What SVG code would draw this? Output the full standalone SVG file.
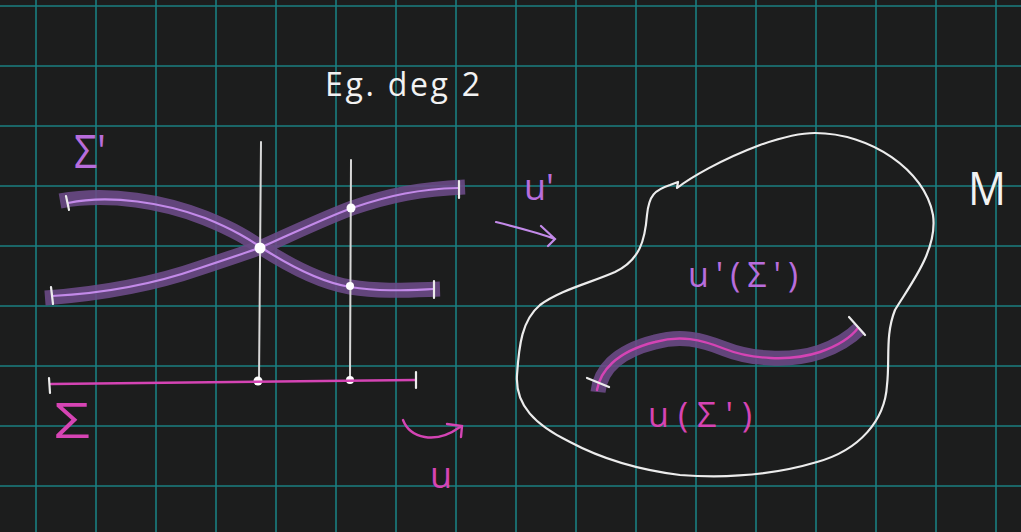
<svg xmlns="http://www.w3.org/2000/svg" width="1021" height="532" viewBox="0 0 1021 532">
<style>
.grid line{stroke:#1a7f81;stroke-width:1.6}
.hl{fill:none;stroke:#6a4a86;stroke-width:15;stroke-linecap:butt;opacity:.9}
.pl{fill:none;stroke:#c38ae9;stroke-width:2.2;stroke-linecap:round}
.mg{fill:none;stroke:#d444b4;stroke-width:2.4;stroke-linecap:round}
.wt{fill:none;stroke:#ececec;stroke-width:2.2;stroke-linecap:round;stroke-linejoin:round}
.vl{fill:none;stroke:#d8d8d8;stroke-width:2;stroke-linecap:round}
.dot{fill:#ffffff}
.t{font-family:"Open Sans","Liberation Sans",sans-serif}
.tw{fill:#f2f2f2}
.tp{fill:#b86ddc}
.tm{fill:#d644b4}
</style>
<rect width="1021" height="532" fill="#1c1d1d"/>
<g class="grid">
<line x1="36" y1="0" x2="36" y2="532"/><line x1="96" y1="0" x2="96" y2="532"/><line x1="156" y1="0" x2="156" y2="532"/><line x1="216" y1="0" x2="216" y2="532"/><line x1="276" y1="0" x2="276" y2="532"/><line x1="336" y1="0" x2="336" y2="532"/><line x1="396" y1="0" x2="396" y2="532"/><line x1="456" y1="0" x2="456" y2="532"/><line x1="516" y1="0" x2="516" y2="532"/><line x1="576" y1="0" x2="576" y2="532"/><line x1="636" y1="0" x2="636" y2="532"/><line x1="696" y1="0" x2="696" y2="532"/><line x1="756" y1="0" x2="756" y2="532"/><line x1="816" y1="0" x2="816" y2="532"/><line x1="876" y1="0" x2="876" y2="532"/><line x1="936" y1="0" x2="936" y2="532"/><line x1="996" y1="0" x2="996" y2="532"/>
<line x1="0" y1="6" x2="1021" y2="6"/><line x1="0" y1="66" x2="1021" y2="66"/><line x1="0" y1="126" x2="1021" y2="126"/><line x1="0" y1="186" x2="1021" y2="186"/><line x1="0" y1="246" x2="1021" y2="246"/><line x1="0" y1="306" x2="1021" y2="306"/><line x1="0" y1="366" x2="1021" y2="366"/><line x1="0" y1="426" x2="1021" y2="426"/><line x1="0" y1="486" x2="1021" y2="486"/>
</g>

<g id="title"><text class="t tw" x="325" y="96" font-size="32" textLength="155" lengthAdjust="spacing">Eg. deg 2</text></g>

<g id="sigma-prime-label"><text class="t tp" x="74" y="168" font-size="46" textLength="32" lengthAdjust="spacingAndGlyphs">Σ'</text></g>

<g id="sigma-prime">
<path class="hl" d="M60,201 C110,192 165,202 205,218 C235,230 250,240 262,248 C290,266 320,282 350,287 C380,292 410,290 440,289"/>
<path class="hl" d="M45,298 C110,293 160,282 200,268 C230,258 248,252 262,247 C300,230 325,218 352,208 C390,195 420,189 465,187"/>
<path class="pl" d="M68,203 C110,194 165,203 205,218 C235,230 250,240 262,248 C290,266 320,282 350,287 C380,292 410,290 433,289"/>
<path class="pl" d="M52,296 C110,293 160,282 200,268 C230,258 248,252 262,247 C300,230 325,218 352,208 C390,195 420,189 458,188"/>
<path class="wt" d="M66,196 L69,210 M51,287 L53,304 M434,281 L434,298 M459,181 L459,198"/>
</g>

<g id="fibres">
<line class="vl" x1="261" y1="142" x2="259" y2="381"/>
<line class="vl" x1="351" y1="160" x2="350" y2="379"/>
</g>

<g id="points">
<circle class="dot" cx="260" cy="248" r="5.5"/>
<circle class="dot" cx="351" cy="208" r="4.5"/>
<circle class="dot" cx="350" cy="286" r="4"/>
<circle class="dot" cx="258" cy="381" r="4.5"/>
<circle class="dot" cx="350" cy="380" r="4"/>
</g>

<g id="sigma">
<path class="mg" d="M51,384 L415,380"/>
<path class="wt" d="M49,378 L50,393 M416,372 L416,388"/>
</g>
<g id="sigma-label"><text class="t tm" x="54" y="438" font-size="50" textLength="36" lengthAdjust="spacingAndGlyphs">Σ</text></g>

<g id="connectors">
<path class="mg" d="M403,420 C410,438 435,445 460,427 M447,424 L462,426 L461,437"/>
<path class="pl" d="M496,222 C520,228 540,233 555,239 M541,226 L555,239 L548,246"/>
</g>
<g id="u-label"><text class="t tm" x="430" y="488" font-size="36">u</text></g>
<g id="u-prime-label"><text class="t tp" x="524" y="200" font-size="36">u'</text></g>

<g id="M">
<path class="wt" d="M815,133 C870,133 925,170 933,215 C938,250 910,285 895,310 C885,335 890,360 887,385 C885,420 860,450 817,462 C770,476 720,478 680,475 C640,470 600,458 570,442 C535,425 515,405 517,375 C519,345 522,320 540,305 C560,290 590,283 615,272 C640,260 645,240 647,215 C649,195 655,190 670,185 L678,182 L677,188 C690,178 720,160 760,145 C780,138 798,133 815,133 Z"/>
<text class="t tw" x="968" y="205" font-size="46" textLength="38" lengthAdjust="spacingAndGlyphs">M</text>
</g>

<g id="image-curve">
<path class="hl" d="M598,392 C600,372 615,352 655,342 C680,335 700,339 725,349 C750,359 790,362 820,352 C840,345 852,336 860,328"/>
<path class="mg" d="M597,390 C600,372 615,352 655,342 C680,335 700,339 725,349 C750,359 790,362 820,352 C840,345 852,336 858,328"/>
<path class="wt" d="M587,378 L609,387 M849,317 L865,335"/>
</g>
<g id="u-prime-sigma-prime-label"><text class="t tp" x="688" y="287" font-size="34" textLength="110" lengthAdjust="spacing">u'(Σ')</text></g>
<g id="u-sigma-prime-label"><text class="t tm" x="648" y="427" font-size="34" textLength="104" lengthAdjust="spacing">u(Σ')</text></g>
</svg>
